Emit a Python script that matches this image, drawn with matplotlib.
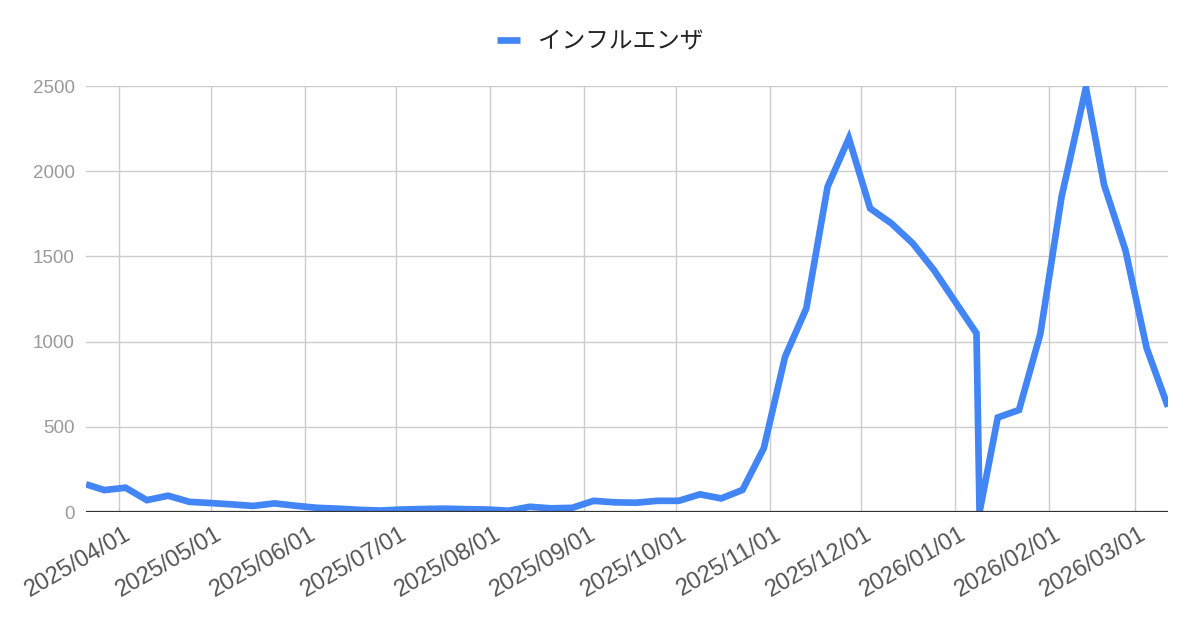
import matplotlib
matplotlib.use("Agg")
import matplotlib.pyplot as plt
import matplotlib.dates as mdates
import matplotlib.transforms as mtransforms
import pandas as pd

# ---- data ----
dates = [
    "2025-03-21", "2025-03-27", "2025-04-03", "2025-04-10", "2025-04-17", "2025-04-24",
    "2025-05-01", "2025-05-08", "2025-05-15", "2025-05-22", "2025-05-29",
    "2025-06-05", "2025-06-12", "2025-06-19", "2025-06-26",
    "2025-07-03", "2025-07-10", "2025-07-17", "2025-07-24", "2025-07-31",
    "2025-08-07", "2025-08-14", "2025-08-21", "2025-08-28",
    "2025-09-04", "2025-09-11", "2025-09-18", "2025-09-25",
    "2025-10-02", "2025-10-09", "2025-10-16", "2025-10-23", "2025-10-30",
    "2025-11-06", "2025-11-13", "2025-11-20", "2025-11-27",
    "2025-12-04", "2025-12-11", "2025-12-18", "2025-12-25",
    "2026-01-01", "2026-01-08", "2026-01-09", "2026-01-15", "2026-01-22", "2026-01-29",
    "2026-02-05", "2026-02-13", "2026-02-19", "2026-02-26",
    "2026-03-05", "2026-03-12",
]
influenza = [
    163, 129, 143, 70, 96, 60,
    53, 45, 36, 51, 37,
    25, 20, 13, 9,
    15, 18, 20, 17, 15,
    8, 31, 22, 25,
    66, 57, 55, 66,
    66, 104, 80, 130, 374,
    911, 1195, 1909, 2193,
    1782, 1694, 1577, 1420,
    1234, 1049, 0, 555, 599, 1045,
    1850, 2490, 1919, 1537,
    961, 618,
]
series_name = "インフルエンザ"
month_ticks = [
    "2025-04-01", "2025-05-01", "2025-06-01", "2025-07-01", "2025-08-01", "2025-09-01",
    "2025-10-01", "2025-11-01", "2025-12-01", "2026-01-01", "2026-02-01", "2026-03-01",
]
y_ticks = [0, 500, 1000, 1500, 2000, 2500]

x = pd.to_datetime(dates)
xt = pd.to_datetime(month_ticks)

plt.rcParams['font.family'] = ['Liberation Sans', 'Noto Sans CJK JP', 'DejaVu Sans']

fig = plt.figure(figsize=(12, 6.26), dpi=100)
ax = fig.add_axes([0.0717, 0.182, 0.9016, 0.6806])

line, = ax.plot(x, influenza, color="#4285F4", lw=4.8, solid_joinstyle="miter",
                solid_capstyle="butt", zorder=3, label=series_name)
ax.axhline(0, color="#333333", lw=1.6, zorder=4)

ax.set_xlim(x[0], x[-1])
ax.set_ylim(0, 2500)
ax.set_yticks(y_ticks)
ax.set_xticks(xt)
ax.xaxis.set_major_formatter(mdates.DateFormatter("%Y/%m/%d"))

ax.grid(True, color="#cccccc", lw=1.0, zorder=0)
ax.set_axisbelow(True)
for s in ax.spines.values():
    s.set_visible(False)

ax.tick_params(axis="y", length=0, pad=8, labelsize=13.5, labelcolor="#999999")
ax.tick_params(axis="x", length=0, pad=8, labelsize=17, labelcolor="#555555")
offset = mtransforms.ScaledTranslation(4 / 100, 0, fig.dpi_scale_trans)
for lbl in ax.get_xticklabels():
    lbl.set_rotation(30)
    lbl.set_ha("right")
    lbl.set_va("top")
    lbl.set_rotation_mode("anchor")
    lbl.set_transform(lbl.get_transform() + offset)

leg = fig.legend(handles=[line], labels=[series_name], loc="center",
                 bbox_to_anchor=(0.5, 1 - 42 / 626), frameon=False,
                 handlelength=1.0, handletextpad=0.75,
                 prop={"family": ["Noto Sans CJK JP", "DejaVu Sans"], "size": 17})
for t in leg.get_texts():
    t.set_color("#222222")

fig.savefig("out.png", dpi=100, facecolor="white")
